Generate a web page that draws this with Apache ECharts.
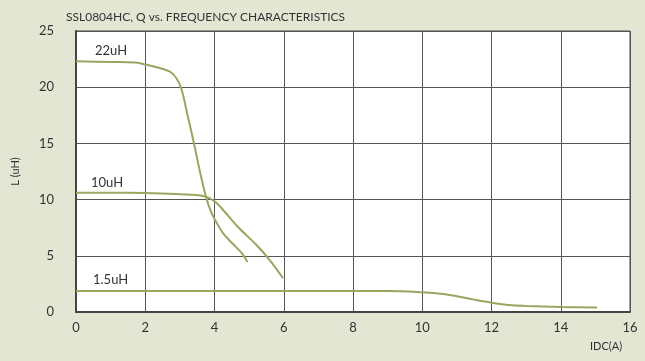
<!DOCTYPE html>
<html>
<head>
<meta charset="utf-8">
<script src="https://cdn.jsdelivr.net/npm/echarts@6/dist/echarts.min.js"></script>
<style>
  html, body { margin: 0; padding: 0; background: #e4e6d4; }
  #chart { width: 645px; height: 361px; }
</style>
</head>
<body>
<div id="chart"></div>
<script>
// 电感随电流变化曲线 (IDC, L)
const curve22 = [[0, 22.3], [1.0, 22.25], [1.7, 22.2], [2.1, 21.95], [2.7, 21.4], [2.9, 20.8], [3.05, 19.8], [3.2, 17.8], [3.4, 15.1], [3.6, 12.2], [3.75, 10.3], [3.9, 8.9], [4.05, 8.0], [4.25, 7.0], [4.55, 6.0], [4.8, 5.2], [4.95, 4.45]];
const curve10 = [[0, 10.6], [1.5, 10.6], [2.5, 10.55], [3.2, 10.45], [3.7, 10.3], [4.0, 9.85], [4.3, 8.9], [4.7, 7.5], [5.2, 6.0], [5.6, 4.6], [5.98, 3.0]];
const curve15 = [[0, 1.87], [4, 1.87], [8, 1.87], [9, 1.87], [10, 1.75], [10.6, 1.6], [11, 1.4], [11.5, 1.1], [12, 0.83], [12.5, 0.62], [13, 0.54], [14, 0.45], [15.05, 0.4]];
const seriesNames = ['22uH', '10uH', '1.5uH'];
const xTicks = [0, 2, 4, 6, 8, 10, 12, 14, 16];
const yTicks = [0, 5, 10, 15, 20, 25];

const lineColor = '#9aa660';
const font = 'Lato, "Open Sans", sans-serif';

const myChart = echarts.init(document.getElementById('chart'));
const mk = (name, data) => ({
  name: name,
  type: 'line',
  data: data,
  smooth: 0.35,
  symbol: 'none',
  silent: true,
  lineStyle: { color: lineColor, width: 2 },
});

const option = {
  backgroundColor: '#e4e6d4',
  animation: false,
  title: {
    text: 'SSL0804HC, Q vs. FREQUENCY CHARACTERISTICS',
    left: 61,
    top: 6,
    textStyle: { fontFamily: font, fontWeight: 'normal', fontSize: 12, color: '#333' },
  },
  grid: {
    left: 76, top: 31, right: 15, bottom: 49,
    show: true, backgroundColor: '#ffffff', borderColor: '#444', borderWidth: 1,
  },
  xAxis: {
    type: 'value',
    min: xTicks[0], max: xTicks[xTicks.length - 1], interval: 2,
    axisLine: { show: true, lineStyle: { color: '#444', width: 2 } },
    axisTick: { show: false },
    axisLabel: { color: '#333', fontFamily: font, fontSize: 13, margin: 9 },
    splitLine: { show: true, lineStyle: { color: '#555', width: 1 } },
  },
  yAxis: {
    type: 'value',
    min: yTicks[0], max: yTicks[yTicks.length - 1], interval: 5,
    name: 'L (uH)',
    nameLocation: 'middle',
    nameGap: 55,
    nameTextStyle: { color: '#333', fontFamily: font, fontSize: 11 },
    axisLine: { show: true, lineStyle: { color: '#444', width: 2 } },
    axisTick: { show: false },
    axisLabel: { color: '#333', fontFamily: font, fontSize: 13, margin: 22 },
    splitLine: { show: true, lineStyle: { color: '#555', width: 1 } },
  },
  graphic: [
    { type: 'text', left: 95, top: 44, style: { text: seriesNames[0], fill: '#333', font: '13px ' + font } },
    { type: 'text', left: 91, top: 176, style: { text: seriesNames[1], fill: '#333', font: '13px ' + font } },
    { type: 'text', left: 93, top: 273, style: { text: seriesNames[2], fill: '#333', font: '13px ' + font } },
    { type: 'text', left: 590, top: 341, style: { text: 'IDC(A)', fill: '#333', font: '11px ' + font } },
  ],
  series: [mk(seriesNames[0], curve22), mk(seriesNames[1], curve10), mk(seriesNames[2], curve15)],
};
myChart.setOption(option);
</script>
</body>
</html>
